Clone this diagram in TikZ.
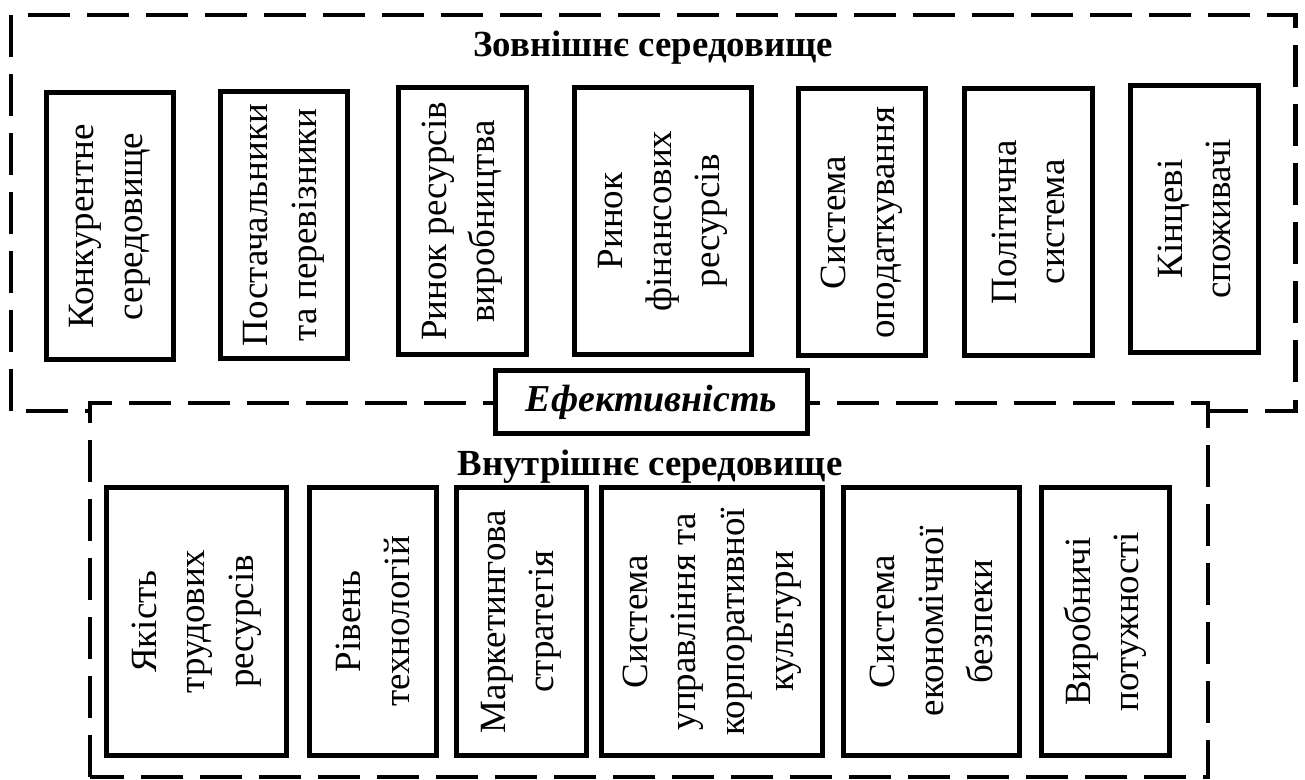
\documentclass[tikz,border=0pt]{standalone}
\usepackage{fontspec}
\setmainfont{Liberation Serif}
\begin{document}
\begin{tikzpicture}[x=0.5pt,y=-0.5pt,
  envline/.style={line width=2.4pt, dash pattern=on 21pt off 8.5pt},
  vbox/.style={draw, line width=2.5pt, rotate=90, align=center, inner sep=0pt,
    font=\fontsize{18.5}{24.3}\selectfont},
  topbox/.style={vbox, minimum width=133.5pt, minimum height=63.75pt},
  botbox/.style={vbox, minimum width=134pt},
  title/.style={font=\fontsize{18.4}{22}\selectfont\bfseries, anchor=base, inner sep=0pt},
  effbox/.style={draw, fill=white, line width=2.5pt, minimum width=156pt, minimum height=31.5pt,
    inner sep=0pt, font=\fontsize{19}{23}\selectfont\bfseries\itshape}
]
\useasboundingbox (0,0) rectangle (1305,780);
\fill[white] (0,0) rectangle (1305,780);

% outer (external) environment
\draw[envline] (11,411) -- (11,15) -- (1295.5,15) -- (1295.5,411) -- cycle;
% inner (internal) environment
\draw[envline, fill=white] (90,777) -- (90,403) -- (1208,403) -- (1208,777) -- cycle;

\node[title] (ext) at (653,57) {Зовнішнє середовище};
\node[title] (int) at (650,475) {Внутрішнє середовище};

% external factors
\node[topbox] (t1) at (109.75,226.5) {Конкурентне\\середовище};
\node[topbox] (t2) at (283.8,225) {Постачальники\\та перевізники};
\node[topbox] (t3) at (462.25,221.5) {Ринок ресурсів\\виробництва};
\node[topbox, minimum height=88.5pt] (t4) at (663,221) {Ринок\\фінансових\\ресурсів};
\node[topbox] (t5) at (862,222.5) {Система\\оподаткування};
\node[topbox] (t6) at (1028.5,222) {Політична\\система};
\node[topbox] (t7) at (1194.5,219) {Кінцеві\\споживачі};

% internal factors
\node[botbox, minimum height=90pt] (b1) at (196.5,621.5) {Якість\\трудових\\ресурсів};
\node[botbox, minimum height=63.7pt] (b2) at (372.8,621.5) {Рівень\\технологій};
\node[botbox, minimum height=64.85pt] (b3) at (521.2,621.5) {Маркетингова\\стратегія};
\node[botbox, minimum height=110.5pt] (b4) at (712,621.5) {Система\\управління та\\корпоративної\\культури};
\node[botbox, minimum height=88pt] (b5) at (931.5,621.5) {Система\\економічної\\безпеки};
\node[botbox, minimum height=64.25pt] (b6) at (1105.25,621.5) {Виробничі\\потужності};

\node[effbox] (eff) at (651.5,402) {Ефективність};
\end{tikzpicture}
\end{document}
